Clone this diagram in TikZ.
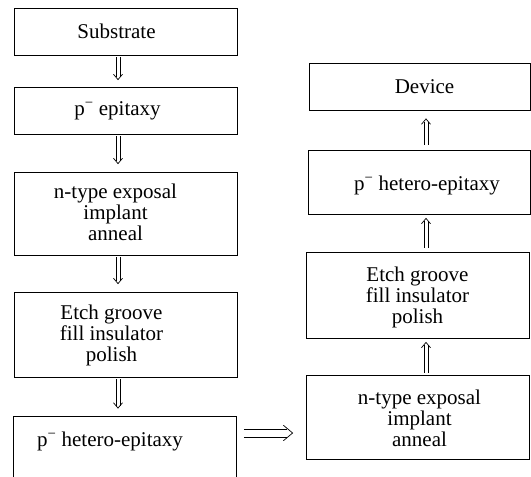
\documentclass[tikz,border=0pt]{standalone}
\usepackage{fontspec}
\setmainfont{Liberation Serif}
\usetikzlibrary{calc}
\newcommand{\pminus}{p\textsuperscript{\char"2212}}
\tikzset{
  stepbox/.style={draw, line width=0.8pt, inner sep=0pt},
  steptext/.style={font=\fontsize{21}{21}\selectfont, align=center, inner sep=0pt},
  flowline/.style={line width=0.7pt, line join=miter}
}
% open double arrow: #1 start, #2 tip, #3 half gap, #4 barb length
\newcommand{\flowarrow}[4]{%
  \draw[flowline] ($(#1)!#3!-90:(#2)$) -- ($($(#2)!1.3*#3!(#1)$)!#3!90:(#1)$);
  \draw[flowline] ($(#1)!#3!90:(#2)$) -- ($($(#2)!1.3*#3!(#1)$)!#3!-90:(#1)$);
  \draw[flowline] ($(#2)!#4!40:(#1)$) -- (#2) -- ($(#2)!#4!-40:(#1)$);
}
\begin{document}
\begin{tikzpicture}[x=1pt, y=-1pt]
  \useasboundingbox (0,0) rectangle (531,477);
  \clip (0,0) rectangle (531,477);

  % left column
  \node[stepbox, minimum width=223pt, minimum height=47pt] (sub) at (125.5,31.5) {};
  \node[steptext] (subT) at ([xshift=-9pt]sub.center) {Substrate};

  \node[stepbox, minimum width=223pt, minimum height=47pt] (epi) at (125.5,110.5) {};
  \node[steptext] (epiT) at ([xshift=-8pt]epi.center) {\pminus{} epitaxy};

  \node[stepbox, minimum width=223pt, minimum height=83pt] (impL) at (125.5,213.5) {};
  \node[steptext] (impLT) at ([xshift=-10pt,yshift=1pt]impL.center) {n-type exposal\\implant\\anneal};

  \node[stepbox, minimum width=223pt, minimum height=85pt] (etchL) at (125.5,334.5) {};
  \node[steptext] (etchLT) at ([xshift=-14pt,yshift=-1pt]etchL.center) {Etch groove\\fill insulator\\polish};

  \node[stepbox, minimum width=223pt, minimum height=90pt] (hetL) at (125,461.5) {};
  \node[steptext] (hetLT) at (110,441) {\pminus{} hetero-epitaxy};

  % right column
  \node[stepbox, minimum width=221pt, minimum height=47pt] (dev) at (419.5,87) {};
  \node[steptext] (devT) at ([xshift=5pt]dev.center) {Device};

  \node[stepbox, minimum width=222pt, minimum height=64pt] (hetR) at (419,182) {};
  \node[steptext] (hetRT) at ([xshift=8pt,yshift=-3pt]hetR.center) {\pminus{} hetero-epitaxy};

  \node[stepbox, minimum width=223pt, minimum height=86pt] (etchR) at (417.5,295) {};
  \node[steptext] (etchRT) at ([yshift=-2pt]etchR.center) {Etch groove\\fill insulator\\polish};

  \node[stepbox, minimum width=223pt, minimum height=84pt] (impR) at (417.5,417) {};
  \node[steptext] (impRT) at ([xshift=2pt,yshift=-1pt]impR.center) {n-type exposal\\implant\\anneal};

  % arrow ends
  \coordinate (a1s) at ([xshift=-7.5pt,yshift=-2pt]sub.south);
  \coordinate (a1e) at ([xshift=-7.5pt,yshift=7pt]epi.north);
  \coordinate (a2s) at ([xshift=-7.5pt,yshift=-2pt]epi.south);
  \coordinate (a2e) at ([xshift=-7.5pt,yshift=8pt]impL.north);
  \coordinate (a3s) at ([xshift=-7.5pt,yshift=-2pt]impL.south);
  \coordinate (a3e) at ([xshift=-7.5pt,yshift=8pt]etchL.north);
  \coordinate (a4s) at ([xshift=-7.5pt,yshift=-2pt]etchL.south);
  \coordinate (a4e) at ([xshift=-7pt,yshift=8pt]hetL.north);
  \coordinate (a5s) at ([xshift=7pt,yshift=28.5pt]hetL.east);
  \coordinate (a5e) at ([xshift=-13pt]a5s -| impR.west);
  \coordinate (a6s) at ([xshift=8.5pt,yshift=2pt]impR.north);
  \coordinate (a6e) at ([yshift=-4pt]a6s |- etchR.south);
  \coordinate (a7s) at ([yshift=4pt]a6s |- etchR.north);
  \coordinate (a7e) at ([yshift=-4pt]a6s |- hetR.south);
  \coordinate (a8s) at ([yshift=5pt]a6s |- hetR.north);
  \coordinate (a8e) at ([yshift=-8pt]a6s |- dev.south);

  % arrows
  \flowarrow{a1s}{a1e}{2pt}{7pt}
  \flowarrow{a2s}{a2e}{2pt}{7pt}
  \flowarrow{a3s}{a3e}{2pt}{7pt}
  \flowarrow{a4s}{a4e}{2pt}{7pt}
  \flowarrow{a5s}{a5e}{4pt}{12pt}
  \flowarrow{a6s}{a6e}{2pt}{7pt}
  \flowarrow{a7s}{a7e}{2pt}{7pt}
  \flowarrow{a8s}{a8e}{2pt}{7pt}
\end{tikzpicture}
\end{document}
